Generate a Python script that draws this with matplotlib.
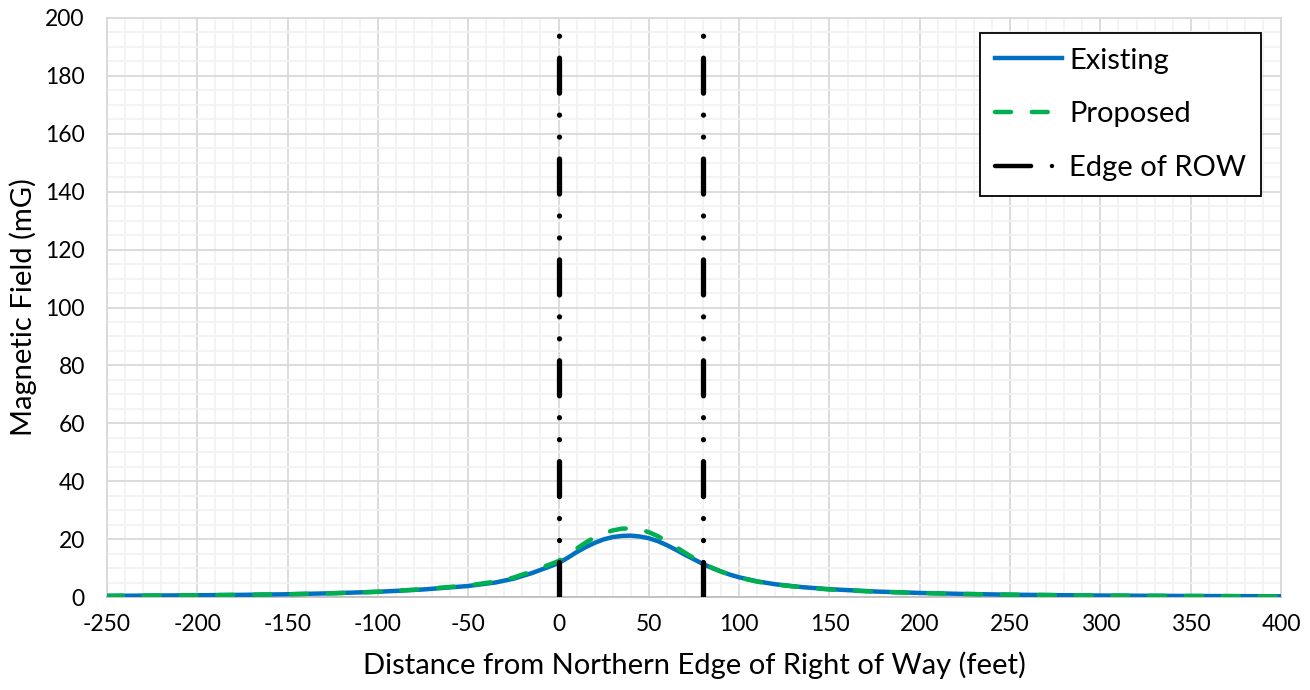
import matplotlib
matplotlib.use("Agg")
import matplotlib.pyplot as plt
from matplotlib.ticker import MultipleLocator
from matplotlib.lines import Line2D

plt.rcParams['font.family'] = ['Lato', 'DejaVu Sans']
plt.rcParams['lines.scale_dashes'] = False
plt.rcParams['axes.unicode_minus'] = False

# Data
dist = [-250, -225, -200, -175, -150, -125, -100, -75, -50, -35, -25, -15, -5, 0,
        5, 10, 15, 20, 25, 30, 35, 40, 45, 50, 55, 60, 65, 70, 75, 80,
        85, 90, 95, 100, 110, 120, 135, 150, 175, 200, 225, 250, 300, 350, 400]
existing = [0.4, 0.5, 0.6, 0.75, 0.95, 1.3, 1.8, 2.6, 3.8, 5.0, 6.3, 8.2, 10.5, 11.7,
            13.5, 15.5, 17.2, 18.7, 19.9, 20.7, 21.1, 21.2, 20.9, 20.3, 19.3, 17.9, 16.3, 14.6, 13.0, 11.4,
            10.0, 8.8, 7.7, 6.8, 5.4, 4.4, 3.4, 2.7, 1.9, 1.4, 1.05, 0.8, 0.5, 0.35, 0.25]
proposed = [0.4, 0.5, 0.6, 0.75, 0.95, 1.3, 1.8, 2.7, 4.0, 5.3, 6.7, 8.8, 11.2, 12.4,
            14.5, 16.7, 18.8, 20.6, 22.0, 23.0, 23.6, 23.7, 23.3, 22.4, 21.0, 19.3, 17.3, 15.3, 13.4, 11.7,
            10.1, 8.8, 7.6, 6.7, 5.3, 4.3, 3.3, 2.6, 1.85, 1.4, 1.05, 0.8, 0.5, 0.35, 0.25]
row_edges = [0, 80]
row_span = [0, 197]

xticks = list(range(-250, 401, 50))
yticks = list(range(0, 201, 20))

blue = '#0070C0'
green = '#00B050'

fig = plt.figure(figsize=(13.1, 6.9), dpi=100)
ax = fig.add_axes([107/1310, 1 - 597/690, (1281 - 107)/1310, (597 - 18)/690])

ax.set_xlim(-250, 400)
ax.set_ylim(0, 200)
ax.set_xticks(xticks)
ax.set_yticks(yticks)
ax.xaxis.set_minor_locator(MultipleLocator(10))
ax.yaxis.set_minor_locator(MultipleLocator(5))
ax.grid(which='minor', color='#F2F2F2', linewidth=1.3, zorder=0)
ax.grid(which='major', color='#D9D9D9', linewidth=1.3, zorder=0)
ax.set_axisbelow(True)
ax.tick_params(which='both', length=0, labelsize=16.5)
ax.tick_params(axis='x', pad=12)
ax.tick_params(axis='y', pad=16)
for s in ['left', 'right', 'top']:
    ax.spines[s].set_color('#D9D9D9')
    ax.spines[s].set_linewidth(1.3)
ax.spines['bottom'].set_color('#BFBFBF')
ax.spines['bottom'].set_linewidth(1.3)

lw = 3.2
lw_row = 3.8
row_dash = (0, (25.2, 15.8, 0.01, 15.8, 0.01, 15.8))
for xe in row_edges:
    ax.plot([xe, xe], row_span, color='black', linewidth=lw_row,
            linestyle=row_dash, dash_capstyle='round', zorder=4)

ax.plot(dist, existing, color=blue, linewidth=lw, zorder=3,
        solid_joinstyle='round')
ax.plot(dist, proposed, color=green, linewidth=lw, zorder=3.5,
        linestyle=(0, (11.5, 15.0)), dash_capstyle='round')

ax.set_xlabel('Distance from Northern Edge of Right of Way (feet)', fontsize=21, labelpad=12)
ax.set_ylabel('Magnetic Field (mG)', fontsize=21)
ax.yaxis.set_label_coords(-0.06, 0.5)

handles = [
    Line2D([], [], color=blue, linewidth=lw),
    Line2D([], [], color=green, linewidth=lw, linestyle=(0, (11.5, 15.0)), dash_capstyle='round'),
    Line2D([], [], color='black', linewidth=lw, linestyle=(0, (26.0, 15.0, 0.01, 100)),
           dash_capstyle='round'),
]
leg = ax.legend(handles, ['Existing', 'Proposed', 'Edge of ROW'], loc='upper right',
                bbox_to_anchor=(1261/1310, 1 - 33/690), bbox_transform=fig.transFigure,
                fontsize=21, frameon=True, fancybox=False, edgecolor='black',
                framealpha=1, handlelength=2.3, handletextpad=0.25, labelspacing=0.95,
                borderpad=0.5, borderaxespad=0)
leg.get_frame().set_linewidth(1.3)

fig.savefig('out.png', dpi=100, facecolor='white')
